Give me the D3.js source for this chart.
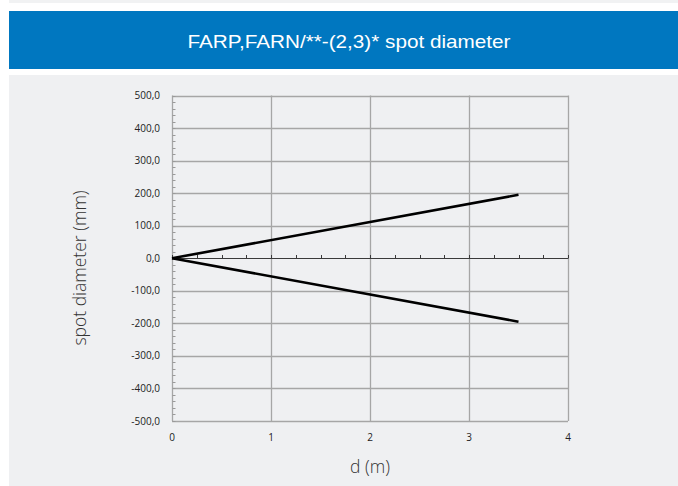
<!DOCTYPE html>
<html><head><meta charset="utf-8">
<script src="https://cdn.jsdelivr.net/npm/d3@7"></script>
<style>html,body{margin:0;padding:0;background:#fff;}svg{display:block;}</style>
</head><body>
<script>
const title = "FARP,FARN/**-(2,3)* spot diameter";
const xLabel = "d (m)";
const yLabel = "spot diameter (mm)";
const distances = [0, 3.5];
const upperSeries = [0, 195];
const lowerSeries = [0, -195];
const xTicks = [0, 1, 2, 3, 4];
const yTicks = [-500, -400, -300, -200, -100, 0, 100, 200, 300, 400, 500];

const W = 678, H = 486;
const svg = d3.select("body").append("svg").attr("width", W).attr("height", H);

// backgrounds
svg.append("rect").attr("x", 9).attr("y", 0).attr("width", W - 9).attr("height", 3).attr("fill", "#f1f2f3");
svg.append("rect").attr("x", 9).attr("y", 11).attr("width", W - 9).attr("height", 58).attr("fill", "#0077c0");
svg.append("rect").attr("x", 9).attr("y", 75).attr("width", W - 9).attr("height", H - 75).attr("fill", "#eff0f2");

svg.append("text").attr("x", 349).attr("y", 47.5).attr("text-anchor", "middle")
  .attr("font-family", "Liberation Sans, Arial, sans-serif").attr("font-size", 18.5)
  .attr("fill", "#fff").attr("textLength", 323).attr("lengthAdjust", "spacingAndGlyphs").text(title);

const x = d3.scaleLinear().domain([0, 4]).range([172, 568]);
const y = d3.scaleLinear().domain([-500, 500]).range([421, 95.5]);

const grid = svg.append("g");
grid.selectAll("line.h").data(yTicks.filter(v => v !== 0)).join("line")
  .attr("x1", x(0)).attr("x2", x(4)).attr("y1", d => Math.round(y(d)) + 0.5).attr("y2", d => Math.round(y(d)) + 0.5)
  .attr("stroke", "#a6a6a6").attr("stroke-width", 1.3);
grid.selectAll("line.v").data(xTicks).join("line")
  .attr("y1", y(500)).attr("y2", y(-500)).attr("x1", d => Math.round(x(d)) + 0.5).attr("x2", d => Math.round(x(d)) + 0.5)
  .attr("stroke", "#a6a6a6").attr("stroke-width", 1.3);

const yMinor = d3.range(-500, 501, 20);
grid.selectAll("line.ym").data(yMinor).join("line")
  .attr("x1", Math.round(x(0)) + 0.5).attr("x2", Math.round(x(0)) + 3.5)
  .attr("y1", d => Math.round(y(d)) + 0.5).attr("y2", d => Math.round(y(d)) + 0.5)
  .attr("stroke", "#9a9a9a").attr("stroke-width", 1);

const y0 = Math.round(y(0)) + 0.5;
svg.append("line").attr("x1", x(0)).attr("x2", x(4)).attr("y1", y0).attr("y2", y0).attr("stroke", "#3a3a3a").attr("stroke-width", 1);
const xMinor = d3.range(0, 4.001, 0.25);
svg.selectAll("line.xm").data(xMinor).join("line")
  .attr("x1", d => Math.round(x(d)) + 0.5).attr("x2", d => Math.round(x(d)) + 0.5)
  .attr("y1", y0).attr("y2", y0 - 3.5).attr("stroke", "#3a3a3a").attr("stroke-width", 1);

const fmt = v => v.toFixed(1).replace(".", ",");
svg.selectAll("text.yt").data(yTicks).join("text")
  .attr("x", 160).attr("y", d => y(d) + 3.5).attr("text-anchor", "end")
  .attr("font-family", "Open Sans, sans-serif").attr("font-size", 10).attr("fill", "#222").text(fmt);
svg.selectAll("text.xt").data(xTicks).join("text")
  .attr("x", d => x(d)).attr("y", 441).attr("text-anchor", "middle")
  .attr("font-family", "Open Sans, sans-serif").attr("font-size", 10).attr("fill", "#222").text(d => d);

const line = d3.line().x((d, i) => x(distances[i])).y(d => y(d));
[upperSeries, lowerSeries].forEach(s => {
  svg.append("path").attr("d", line(s)).attr("fill", "none").attr("stroke", "#000").attr("stroke-width", 2.6);
});

svg.append("text").attr("x", 370).attr("y", 473).attr("text-anchor", "middle")
  .attr("font-family", "Open Sans, sans-serif").attr("font-weight", 300).attr("font-size", 17.5).attr("fill", "#333").text(xLabel);
svg.append("text").attr("transform", "translate(86,268) rotate(-90)").attr("text-anchor", "middle")
  .attr("font-family", "Open Sans, sans-serif").attr("font-weight", 300).attr("font-size", 17.5).attr("fill", "#333").text(yLabel);
</script>
</body></html>
